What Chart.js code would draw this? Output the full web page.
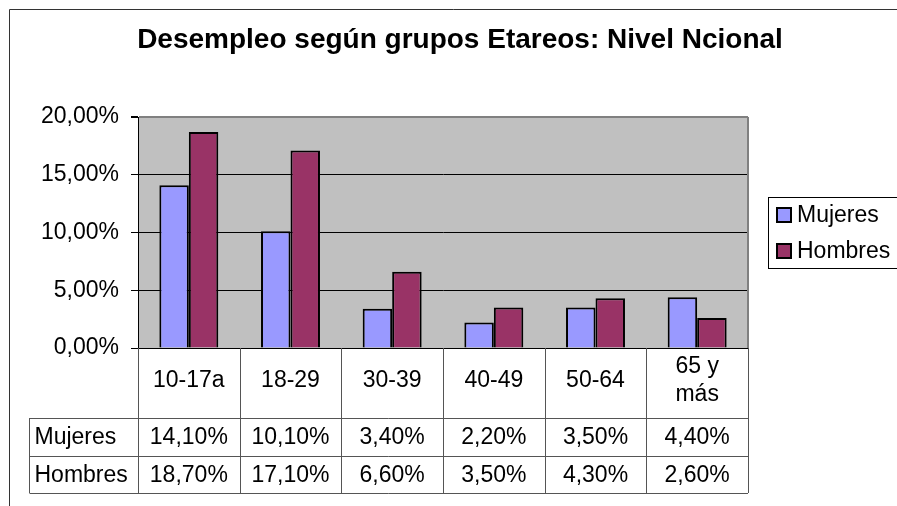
<!DOCTYPE html>
<html>
<head>
<meta charset="utf-8">
<title>Desempleo según grupos Etareos</title>
<script src="https://cdn.jsdelivr.net/npm/chart.js@4.4.0/dist/chart.umd.min.js"></script>
<style>
  html, body { margin: 0; padding: 0; background: #fff; }
</style>
</head>
<body>
<canvas id="bar-chart" width="897" height="506"></canvas>
<script>
const chartTitle = 'Desempleo según grupos Etareos: Nivel Ncional';
const categories = ['10-17a', '18-29', '30-39', '40-49', '50-64', ['65 y', 'más']];
const seriesNames = ['Mujeres', 'Hombres'];
const mujeres = [14.1, 10.1, 3.4, 2.2, 3.5, 4.4];
const hombres = [18.7, 17.1, 6.6, 3.5, 4.3, 2.6];
const yTicks = [0, 5, 10, 15, 20];
const seriesColors = ['#9999ff', '#993366'];

const family = 'Arial, "Liberation Sans", sans-serif';

// 14.1 -> "14,10%"
function pct(v) {
    return v.toFixed(2).replace('.', ',') + '%';
}

// grey plot area, outer frame and the title
const frame = {
    id: 'frame',
    beforeDraw(chart) {
        const {ctx, chartArea: a} = chart;
        ctx.save();
        ctx.fillStyle = '#c0c0c0';
        ctx.fillRect(a.left, a.top, a.right - a.left, a.bottom - a.top);

        ctx.strokeStyle = '#333';
        ctx.lineWidth = 1;
        ctx.beginPath();
        ctx.moveTo(9.5, chart.height);
        ctx.lineTo(9.5, 9.5);
        ctx.lineTo(chart.width, 9.5);
        ctx.stroke();

        ctx.fillStyle = '#000';
        ctx.font = 'bold 28px ' + family;
        ctx.textAlign = 'center';
        ctx.textBaseline = 'alphabetic';
        ctx.fillText(chartTitle, 460, 48);
        ctx.restore();
    },
    beforeDatasetsDraw(chart) {
        const {ctx, chartArea: a} = chart;
        ctx.save();
        ctx.strokeStyle = '#808080';
        ctx.lineWidth = 2;
        ctx.beginPath();
        ctx.moveTo(a.right, a.top);
        ctx.lineTo(a.right, a.bottom);
        ctx.stroke();
        ctx.restore();
    }
};

// data table under the x axis
const dataTable = {
    id: 'dataTable',
    afterDraw(chart) {
        const {ctx, chartArea: a, scales: {x}} = chart;
        const n = categories.length;
        const labelLeft = 29.5;
        const rows = [a.bottom, 418, 455.5, 493];
        const edges = [a.left];
        for (let i = 0; i < n - 1; i++) {
            edges.push((x.getPixelForValue(i) + x.getPixelForValue(i + 1)) / 2);
        }
        edges.push(a.right);

        ctx.save();
        ctx.strokeStyle = '#555';
        ctx.lineWidth = 1;
        ctx.beginPath();
        edges.forEach(e => {
            const px = Math.round(e) + 0.5;
            ctx.moveTo(px, a.bottom);
            ctx.lineTo(px, rows[3]);
        });
        for (let r = 1; r < rows.length; r++) {
            const py = Math.round(rows[r]) + 0.5;
            ctx.moveTo(labelLeft, py);
            ctx.lineTo(a.right, py);
        }
        ctx.moveTo(labelLeft, rows[1]);
        ctx.lineTo(labelLeft, rows[3]);
        ctx.stroke();

        ctx.fillStyle = '#000';
        ctx.font = '23px ' + family;
        ctx.textBaseline = 'middle';
        [mujeres, hombres].forEach((values, r) => {
            const cy = (rows[r + 1] + rows[r + 2]) / 2 + 1;
            ctx.textAlign = 'left';
            ctx.fillText(seriesNames[r], labelLeft + 5, cy);
            ctx.textAlign = 'center';
            values.forEach((v, i) => ctx.fillText(pct(v), x.getPixelForValue(i), cy));
        });
        ctx.restore();
    }
};

// legend box on the right
const legendBox = {
    id: 'legendBox',
    afterDraw(chart) {
        const {ctx} = chart;
        ctx.save();
        ctx.strokeStyle = '#000';
        ctx.lineWidth = 1;
        ctx.strokeRect(768.5, 197.5, 140, 71);
        ctx.font = '23px ' + family;
        ctx.textAlign = 'left';
        ctx.textBaseline = 'middle';
        seriesNames.forEach((name, i) => {
            const y = 215 + i * 36;
            ctx.fillStyle = seriesColors[i];
            ctx.fillRect(777, y - 7, 14, 14);
            ctx.strokeStyle = '#000';
            ctx.lineWidth = 2;
            ctx.strokeRect(777, y - 7, 14, 14);
            ctx.fillStyle = '#000';
            ctx.fillText(name, 797, y + 1);
        });
        ctx.restore();
    }
};

new Chart(document.getElementById('bar-chart'), {
    type: 'bar',
    data: {
        labels: categories,
        datasets: [{
            label: seriesNames[0],
            data: mujeres,
            backgroundColor: seriesColors[0],
            borderColor: '#000',
            borderWidth: 2,
        }, {
            label: seriesNames[1],
            data: hombres,
            backgroundColor: seriesColors[1],
            borderColor: '#000',
            borderWidth: 2,
        }]
    },
    options: {
        responsive: false,
        animation: false,
        layout: {padding: {top: 117, left: 0, right: 149, bottom: 0}},
        datasets: {bar: {categoryPercentage: 0.58, barPercentage: 1}},
        plugins: {
            legend: {display: false},
            tooltip: {enabled: false},
            title: {display: false}
        },
        scales: {
            x: {
                grid: {display: false, drawTicks: false},
                border: {display: true, color: '#000', width: 1},
                ticks: {
                    color: '#000',
                    font: {family, size: 23, lineHeight: 1.2},
                    padding: 19,
                    crossAlign: 'center',
                    maxRotation: 0,
                    autoSkip: false
                },
                afterFit(scale) { scale.height = 506 - 348; }
            },
            y: {
                min: 0,
                max: 20,
                afterBuildTicks(scale) { scale.ticks = yTicks.map(v => ({value: v})); },
                grid: {
                    color: c => (c.tick && c.tick.value === 20 ? '#808080' : '#000'),
                    lineWidth: c => (c.tick && c.tick.value === 20 ? 2 : 1),
                    tickColor: '#000',
                    tickLength: 7
                },
                border: {display: true, color: '#000', width: 1},
                ticks: {
                    color: '#000',
                    font: {family, size: 23},
                    padding: 12,
                    callback: v => pct(v)
                },
                afterFit(scale) { scale.width = 138; }
            }
        }
    },
    plugins: [frame, dataTable, legendBox]
});
</script>
</body>
</html>
